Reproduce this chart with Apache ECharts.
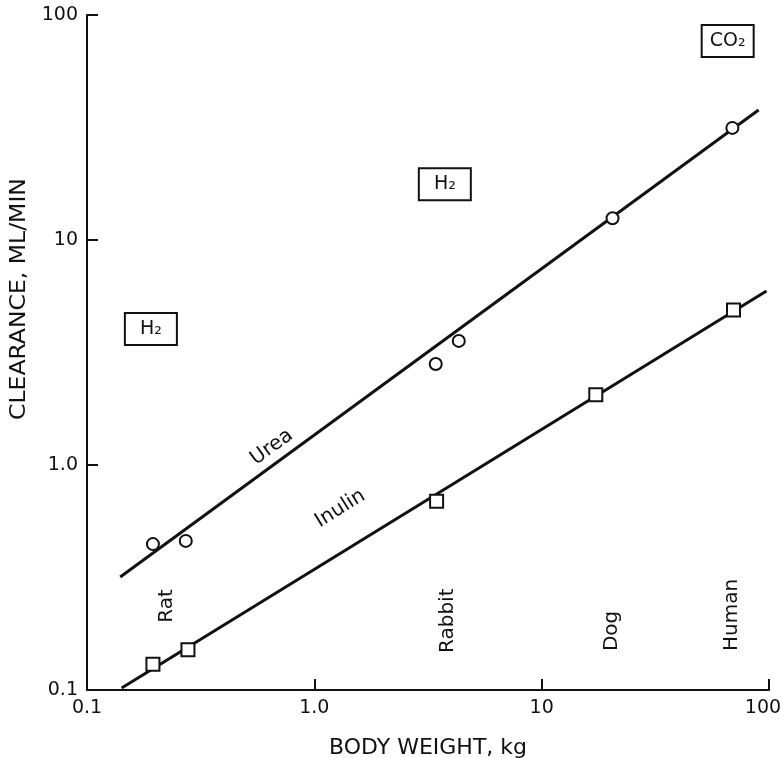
<!DOCTYPE html>
<html>
<head>
<meta charset="utf-8">
<script src="https://cdn.jsdelivr.net/npm/echarts@6/dist/echarts.min.js"></script>
<style>
    html, body { margin: 0; padding: 0; background: #fff; overflow: hidden; }
    #chart { width: 783px; height: 758px; }
</style>
</head>
<body>
<div id="chart"></div>
<script>
// measured points, [body weight kg, clearance ml/min]
const ureaPoints = [[0.195, 0.445], [0.272, 0.46], [3.42, 2.81], [4.32, 3.56], [20.5, 12.5], [69, 31.5]];
const inulinPoints = [[0.195, 0.13], [0.278, 0.151], [3.45, 0.69], [17.3, 2.05], [69.8, 4.89]];
// fitted lines (end points)
const ureaFit = [[0.14, 0.318], [90, 37.8]];
const inulinFit = [[0.142, 0.102], [97.5, 5.93]];
// tick labels
const xTickLabels = ["0.1", "1.0", "10", "100"];
const yTickLabels = ["0.1", "1.0", "10", "100"];
// text annotations
const lineNames = [
    { name: "Urea", value: [0.65, 1.2], rotate: 36 },
    { name: "Inulin", value: [1.3, 0.64], rotate: 32 }
];
const animals = [
    { name: "Rat", value: [0.225, 0.199] },
    { name: "Rabbit", value: [3.86, 0.146] },
    { name: "Dog", value: [20.3, 0.149] },
    { name: "Human", value: [68.4, 0.149] }
];
const gasBoxes = [
    { name: "H₂", value: [0.191, 4.02] },
    { name: "H₂", value: [3.75, 17.7] },
    { name: "CO₂", value: [65.8, 76.6] }
];

const FONT = "DejaVu Sans";
const INK = "#111";

const chart = echarts.init(document.getElementById("chart"));

function logAxis(labels) {
    return {
        type: "log",
        logBase: 10,
        min: 0.1,
        max: 100,
        splitLine: { show: false },
        minorTick: { show: false },
        axisLine: { lineStyle: { color: INK, width: 2 } },
        axisTick: { inside: true, length: 11, lineStyle: { color: INK, width: 2 } },
        axisLabel: {
            color: INK,
            fontFamily: FONT,
            fontSize: 19,
            margin: 9,
            formatter: (v, i) => labels[i]
        }
    };
}

const xAxis = logAxis(xTickLabels);
// last x label sits a bit left of its tick in the original
xAxis.axisLabel.formatter = (v, i) => i === xTickLabels.length - 1 ? "{last|" + xTickLabels[i] + "}" : xTickLabels[i];
xAxis.axisLabel.rich = { last: { color: INK, fontFamily: FONT, fontSize: 19, padding: [0, 12, 0, 0] } };
xAxis.name = "BODY WEIGHT, kg";
xAxis.nameLocation = "middle";
xAxis.nameGap = 47;
xAxis.nameTextStyle = { color: INK, fontFamily: FONT, fontSize: 22 };

const yAxis = logAxis(yTickLabels);

// plain text label style shared by the annotation series
const textLabel = {
    show: true,
    position: "inside",
    formatter: "{b}",
    color: INK,
    fontFamily: FONT,
    fontSize: 20
};

const option = {
    backgroundColor: "#fff",
    animation: false,
    grid: { left: 87, right: 14, top: 15, bottom: 68, outerBoundsMode: "none", containLabel: false },
    xAxis: xAxis,
    yAxis: yAxis,
    graphic: [{
        type: "text",
        x: 9,
        y: 420,
        rotation: Math.PI / 2,
        scaleX: 1.12,
        style: { text: "CLEARANCE, ML/MIN", fill: INK, font: "21px '" + FONT + "'" }
    }],
    series: [
        {
            type: "line",
            data: ureaFit,
            symbol: "none",
            lineStyle: { color: INK, width: 3 },
            z: 2
        },
        {
            type: "line",
            data: inulinFit,
            symbol: "none",
            lineStyle: { color: INK, width: 3 },
            z: 2
        },
        {
            type: "scatter",
            data: ureaPoints,
            symbol: "circle",
            symbolSize: 12,
            itemStyle: { color: "#fff", borderColor: INK, borderWidth: 2, opacity: 1 },
            z: 3
        },
        {
            type: "scatter",
            data: inulinPoints,
            symbol: "rect",
            symbolSize: 13,
            itemStyle: { color: "#fff", borderColor: INK, borderWidth: 2, opacity: 1 },
            z: 3
        },
        {
            // names along the fitted lines
            type: "scatter",
            symbolSize: 0,
            itemStyle: { opacity: 1 },
            data: lineNames.map(d => ({
                name: d.name, value: d.value,
                label: { rotate: d.rotate }
            })),
            label: textLabel
        },
        {
            // animal names, vertical, anchored at the bottom
            type: "scatter",
            symbolSize: 0,
            itemStyle: { opacity: 1 },
            data: animals,
            label: Object.assign({}, textLabel, {
                rotate: 90,
                align: "left",
                verticalAlign: "middle"
            })
        },
        {
            // boxed gas labels
            type: "scatter",
            symbolSize: 0,
            itemStyle: { opacity: 1 },
            data: gasBoxes,
            label: Object.assign({}, textLabel, {
                fontSize: 19,
                width: 50,
                height: 30,
                lineHeight: 30,
                align: "center",
                verticalAlign: "middle",
                borderColor: INK,
                borderWidth: 2,
                backgroundColor: "#fff"
            })
        }
    ]
};

chart.setOption(option);
</script>
</body>
</html>
